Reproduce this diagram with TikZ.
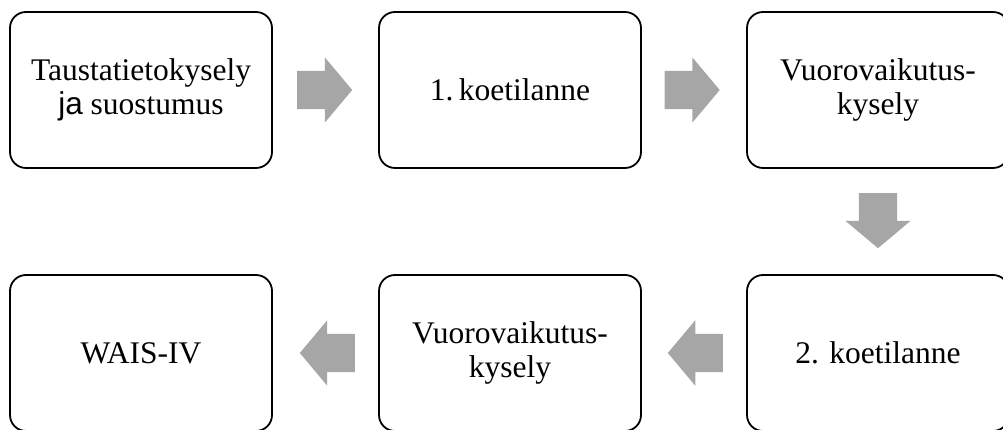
\documentclass[tikz,border=0pt]{standalone}
\usepackage{fontspec}
\setmainfont{Liberation Serif}
\newfontfamily\jafont{Liberation Sans}
\usetikzlibrary{shapes.arrows, calc}
\definecolor{arrowgray}{RGB}{166,166,166}

\begin{document}
\begin{tikzpicture}[
    x=1pt, y=1pt,
    stepbox/.style={draw, line width=1.8pt, rounded corners=16pt,
        minimum width=262pt, minimum height=156pt, inner sep=0pt,
        align=center, font=\fontsize{31.5}{34}\selectfont},
    blockarrow/.style={single arrow, fill=arrowgray, draw=none, anchor=tail,
        inner xsep=0pt, inner ysep=19pt,
        minimum height=55pt, minimum width=65pt,
        single arrow head extend=13.5pt, single arrow tip angle=100,
        shape border rotate=#1},
    downarrow/.style={blockarrow=270, inner xsep=19pt, inner ysep=0pt},
]
% page is cropped: last column runs off the right edge
\useasboundingbox (0,0) rectangle (1003,430);
\clip (0,0) rectangle (1003,430);
% top row, left to right
\node[stepbox] (b1) at (141,340) {Taustatietokysely\\{\jafont ja} suostumus};
\node[stepbox] (b2) at (510,340) {1.\,koetilanne};
\node[stepbox] (b3) at (878,340) {Vuorovaikutus-\\kysely};
% bottom row, right to left
\node[stepbox] (b4) at (878,77) {2. koetilanne};
\node[stepbox] (b5) at (510,77) {Vuorovaikutus-\\kysely};
\node[stepbox] (b6) at (141,77) {WAIS-IV};
% block arrows in the gaps (tail placed half a length back from the gap centre)
\node[blockarrow=0] (a12) at ($(b1.east)!0.5!(b2.west)+(-28.5,0)$) {};
\node[blockarrow=0] (a23) at ($(b2.east)!0.5!(b3.west)+(-29.5,0)$) {};
\node[downarrow] (a34) at ($(b3.south)!0.5!(b4.north)+(0,28.5)$) {};
\node[blockarrow=180] (a45) at ($(b4.west)!0.5!(b5.east)+(29,0)$) {};
\node[blockarrow=180] (a56) at ($(b5.west)!0.5!(b6.east)+(29.5,0)$) {};
\end{tikzpicture}
\end{document}
